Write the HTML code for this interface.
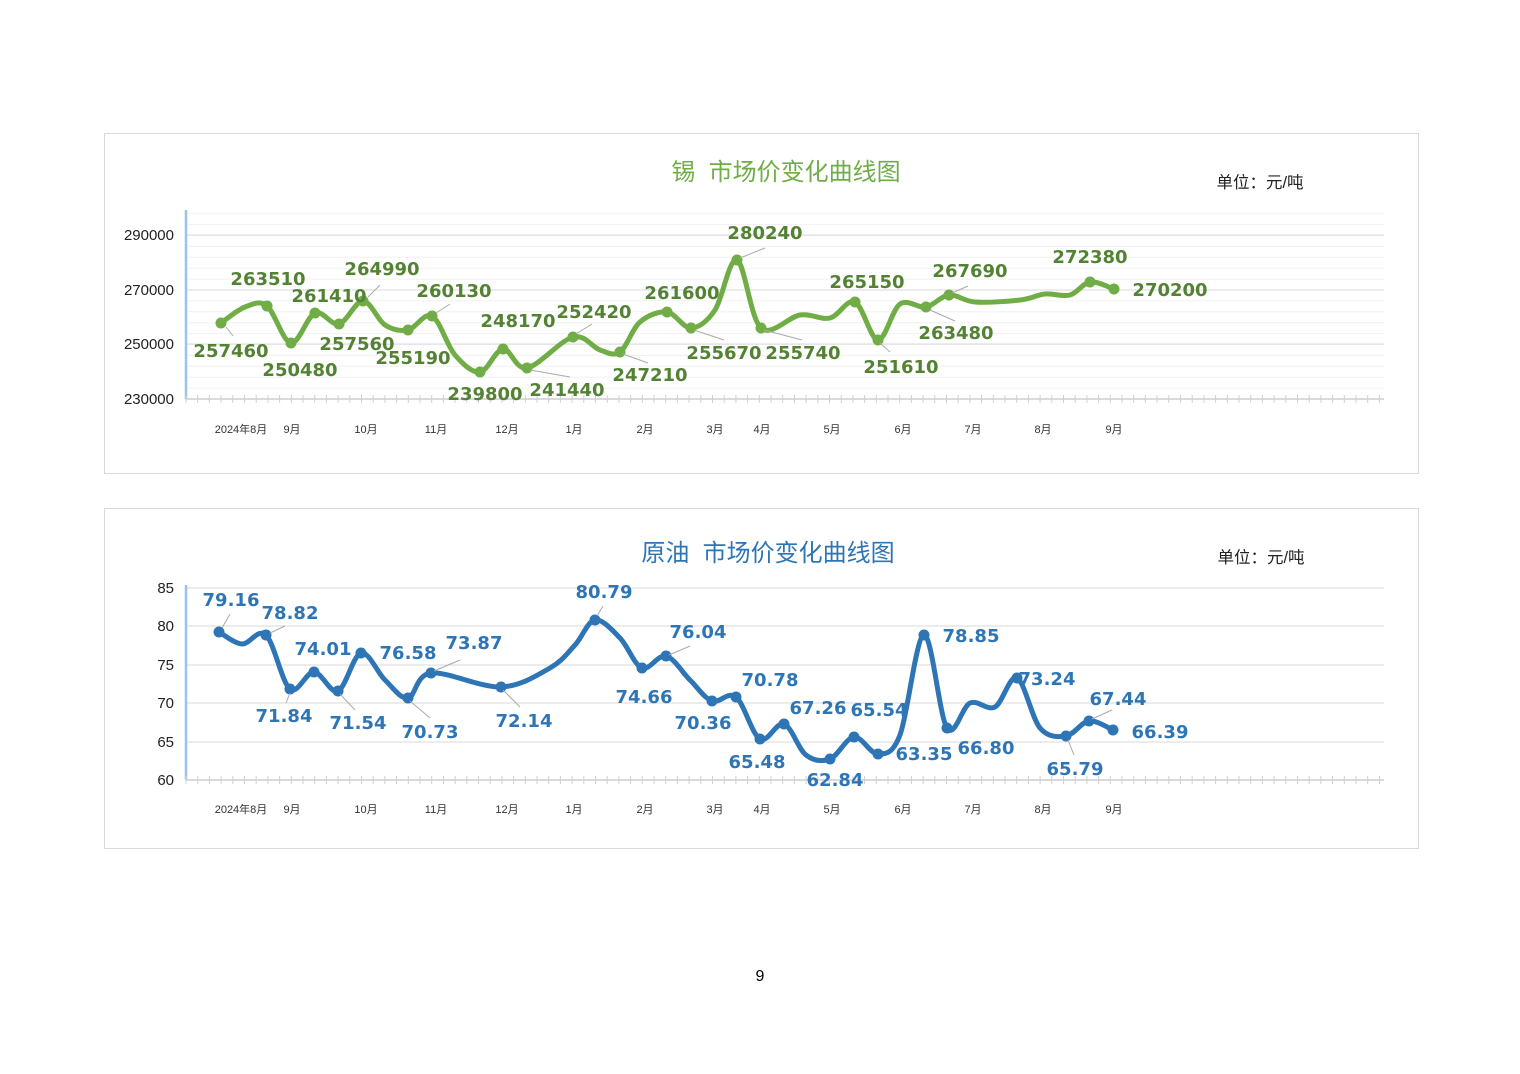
<!DOCTYPE html>
<html><head><meta charset="utf-8"><style>
body{margin:0;background:#fff;width:1520px;height:1074px;overflow:hidden}
svg{display:block}
.t{font-family:"Liberation Sans","Noto Sans CJK SC",sans-serif}
.lg{font-family:"DejaVu Sans","Liberation Sans",sans-serif;font-weight:bold;font-size:18px;text-anchor:middle}
.ax{font-family:"Liberation Sans",sans-serif;font-size:15px;fill:#222;text-anchor:end}
.mo{font-family:"Liberation Sans","Noto Sans CJK SC",sans-serif;font-size:11px;fill:#333;text-anchor:middle}
</style></head><body>
<svg id="s" width="1520" height="1074" xmlns="http://www.w3.org/2000/svg">
<rect x="104.5" y="133.5" width="1314" height="340" fill="#fff" stroke="#d9d9d9"/>
<rect x="104.5" y="508.5" width="1314" height="340" fill="#fff" stroke="#d9d9d9"/>
<text x="786" y="180" class="t" font-size="24" fill="#70ad47" text-anchor="middle">锡&#160;&#160;市场价变化曲线图</text>
<text x="1260" y="188" class="t" font-size="16.5" fill="#222" text-anchor="middle">单位：元/吨</text>
<text x="768" y="561" class="t" font-size="24" fill="#2e75b6" text-anchor="middle">原油&#160;&#160;市场价变化曲线图</text>
<text x="1261" y="563" class="t" font-size="16.5" fill="#222" text-anchor="middle">单位：元/吨</text>
<text x="760" y="981" class="t" font-size="16" fill="#000" text-anchor="middle">9</text>
<g id="g"></g>
</svg>
<script>
const NS="http://www.w3.org/2000/svg",g=document.getElementById('g');
function el(n,a,t){const e=document.createElementNS(NS,n);for(const k in a)e.setAttribute(k,a[k]);if(t!=null)e.textContent=t;g.appendChild(e);return e}
function path(p){let d=`M${p[0][0]},${p[0][1]}`;for(let i=0;i<p.length-1;i++){const p0=p[i-1]||p[i],p1=p[i],p2=p[i+1],p3=p[i+2]||p2;const k=6;d+=` C${p1[0]+(p2[0]-p0[0])/k},${p1[1]+(p2[1]-p0[1])/k} ${p2[0]-(p3[0]-p1[0])/k},${p2[1]-(p3[1]-p1[1])/k} ${p2[0]},${p2[1]}`}return d}
const months=[["2024年8月",241],["9月",292],["10月",366],["11月",436],["12月",507],["1月",574],["2月",645],["3月",715],["4月",762],["5月",832],["6月",903],["7月",973],["8月",1043],["9月",1114]];
function chart(o){
 for(let y=o.y0;y>=o.top;y-=o.minor)el('line',{x1:186,x2:1384,y1:y,y2:y,stroke:'#f0f0f0','stroke-width':1});
 o.ticks.forEach(([v,y])=>{el('line',{x1:186,x2:1384,y1:y,y2:y,stroke:'#e0e0e0','stroke-width':1.2});el('text',{x:o.lx,y:y+5,class:'ax'},v)});
 el('line',{x1:186,x2:186,y1:o.top,y2:o.y0,stroke:'#9dc3e6','stroke-width':2.5});
 el('line',{x1:186,x2:1384,y1:o.y0,y2:o.y0,stroke:'#d0d0d0','stroke-width':1.5});
 for(let x=186;x<=1384;x+=11.7)el('line',{x1:x,x2:x,y1:o.y0-4,y2:o.y0+4,stroke:'#d0d0d0'});
 months.forEach(([m,x])=>el('text',{x:x,y:o.my,class:'mo'},m));
 el('path',{d:path(o.pts.map(p=>[p[0],p[1]])),fill:'none',stroke:o.c,'stroke-width':5,'stroke-linejoin':'round','stroke-linecap':'round'});
 o.pts.filter(p=>!p[2]).forEach(p=>el('circle',{cx:p[0],cy:p[1],r:5.5,fill:o.c}));
 o.labels.forEach(([t,x,y,lx,ly])=>{if(lx!=null)el('line',{x1:lx[0],y1:lx[1],x2:ly[0],y2:ly[1],stroke:'#aaa'});el('text',{x:x,y:y,class:'lg',fill:o.lc},t)});
}
chart({y0:399,top:210,minor:10.9,lx:174,my:433,c:'#70ad47',lc:'#548235',
 ticks:[["290000",235],["270000",290],["250000",344],["230000",399]],
 pts:[[221,323],[245,307,1],[267,306],[291,343],[315,313],[339,324],[363,301],[385,325,1],[408,330],[432,316],[455,355,1],[480,372],[503,349],[527,368],[573,337],[600,350,1],[620,352],[640,322,1],[667,312],[691,328],[715,310,1],[737,260],[761,328],[800,315,1],[830,318,1],[855,302],[878,340],[900,304,1],[926,307],[949,295],[975,302,1],[1020,300,1],[1045,294,1],[1070,295,1],[1090,282],[1114,289]],
 labels:[["257460",231,357,[226,327],[233,336]],["263510",268,285],["250480",300,376],["261410",329,302],["257560",357,350],["264990",382,275,[368,297],[380,285]],["255190",413,364],["260130",454,297,[436,313],[450,304]],["239800",485,400],["248170",518,327],["241440",567,396,[530,370],[570,377]],["252420",594,318,[576,334],[592,324]],["247210",650,381,[623,354],[648,363]],["261600",682,299],["255670",724,359,[694,330],[724,340]],["280240",765,239,[740,258],[765,248]],["255740",803,359,[764,330],[802,340]],["265150",867,288],["251610",901,373,[880,343],[890,352]],["267690",970,277,[952,293],[968,286]],["263480",956,339,[930,310],[955,321]],["272380",1090,263],["270200",1170,296]]});
chart({y0:780,top:585,minor:1e9,lx:174,my:813,c:'#2e75b6',lc:'#2e75b6',
 ticks:[["85",588],["80",626],["75",665],["70",703],["65",742],["60",780]],
 pts:[[219,632],[242,644,1],[266,635],[290,689],[314,672],[338,691],[361,653],[385,680,1],[408,698],[431,673],[501,687],[550,668,1],[575,645,1],[595,620],[620,638,1],[642,668],[666,656],[690,680,1],[712,701],[736,697],[760,739],[784,724],[806,755,1],[830,759],[854,737],[878,754],[900,735,1],[924,635],[947,728],[970,703,1],[995,707,1],[1017,678],[1040,728,1],[1066,736],[1089,721],[1113,730]],
 labels:[["79.16",231,606,[222,628],[230,614]],["78.82",290,619,[270,633],[285,626]],["71.84",284,722,[290,693],[286,703]],["74.01",323,655],["71.54",358,729,[340,694],[355,710]],["76.58",408,659],["73.87",474,649,[434,671],[460,660]],["70.73",430,738,[410,701],[430,718]],["72.14",524,727,[503,690],[520,707]],["80.79",604,598,[597,616],[603,606]],["74.66",644,703],["76.04",698,638,[669,655],[690,646]],["70.36",703,729],["70.78",770,686],["65.48",757,768],["67.26",818,714],["65.54",879,716],["62.84",835,786],["63.35",924,760],["78.85",971,642],["66.80",986,754],["73.24",1047,685],["65.79",1075,775,[1068,740],[1074,755]],["67.44",1118,705,[1092,719],[1112,710]],["66.39",1160,738]]});
</script>
</body></html>
